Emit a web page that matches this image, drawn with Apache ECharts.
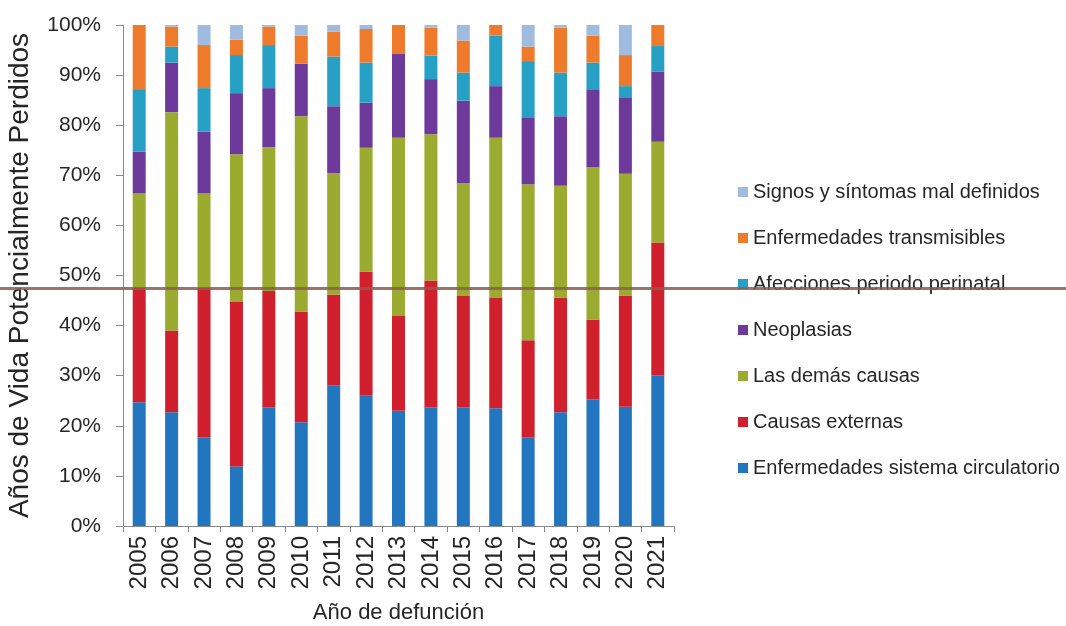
<!DOCTYPE html>
<html>
<head>
<meta charset="utf-8">
<script src="https://cdn.jsdelivr.net/npm/echarts@6/dist/echarts.min.js"></script>
<style>
  html, body { margin: 0; padding: 0; background: #ffffff; }
  #chart { width: 1066px; height: 626px; }
</style>
</head>
<body>
<div id="chart"></div>
<script>
// Años de vida potencialmente perdidos por grupo de causas (% del total anual)
const years = ['2005','2006','2007','2008','2009','2010','2011','2012','2013','2014','2015','2016','2017','2018','2019','2020','2021'];

const circulatorio  = [24.7, 22.7, 17.7, 11.9, 23.7, 20.7, 28.1, 26.0, 23.0, 23.7, 23.7, 23.5, 17.7, 22.7, 25.3, 23.8, 30.1];
const externas      = [22.8, 16.3, 29.8, 32.8, 23.2, 22.1, 18.1, 24.8, 18.9, 25.3, 22.2, 22.0, 19.4, 22.9, 15.9, 22.2, 26.5];
const demas         = [18.9, 43.6, 18.9, 29.5, 28.7, 39.0, 24.2, 24.7, 35.6, 29.2, 22.5, 32.0, 31.1, 22.3, 30.4, 24.3, 20.1];
const neoplasias    = [ 8.3,  9.9, 12.3, 12.2, 11.8, 10.5, 13.4,  9.0, 16.7, 11.0, 16.5, 10.3, 13.4, 13.9, 15.6, 15.3, 14.0];
const perinatal     = [12.5,  3.2,  8.7,  7.6,  8.6,  0.0,  9.9,  8.0,  0.0,  4.7,  5.6, 10.1, 11.2,  8.7,  5.3,  2.2,  5.1];
const transmisibles = [12.8,  4.0,  8.6,  3.1,  3.7,  5.6,  5.0,  6.7,  5.8,  5.6,  6.4,  2.1,  2.9,  9.0,  5.4,  6.2,  4.2];
const signos        = [ 0.0,  0.3,  4.0,  2.9,  0.3,  2.1,  1.3,  0.8,  0.0,  0.5,  3.1,  0.0,  4.3,  0.5,  2.1,  6.0,  0.0];

const seriesNames = [
  'Enfermedades sistema circulatorio',
  'Causas externas',
  'Las demás causas',
  'Neoplasias',
  'Afecciones periodo perinatal',
  'Enfermedades transmisibles',
  'Signos y síntomas mal definidos'
];
const seriesData = [circulatorio, externas, demas, neoplasias, perinatal, transmisibles, signos];
const seriesColors = ['#2276bf', '#d0202d', '#9bab2f', '#6d3a9c', '#27a0c6', '#ee7b2c', '#9fbce0'];

// Horizontal reference level drawn across the full width
const referenceLevel = 47.4;

const textColor = '#262626';
const axisColor = '#8a8a8a';
const font = 'Liberation Sans, Arial, sans-serif';

const chart = echarts.init(document.getElementById('chart'), null, { renderer: 'canvas' });

const option = {
  backgroundColor: '#ffffff',
  animation: false,
  grid: { left: 123, right: 392, top: 25, bottom: 100, containLabel: false, outerBoundsMode: 'none' },
  legend: {
    orient: 'vertical',
    left: 733,
    top: 176,
    data: seriesNames.slice().reverse(),
    icon: 'rect',
    itemWidth: 10,
    itemHeight: 10,
    itemGap: 24,
    textStyle: { fontFamily: font, fontSize: 20, color: textColor, lineHeight: 22 }
  },
  xAxis: {
    type: 'category',
    data: years,
    name: 'Año de defunción',
    nameLocation: 'middle',
    nameGap: 76,
    nameTextStyle: { fontFamily: font, fontSize: 22, color: textColor },
    axisLine: { lineStyle: { color: axisColor, width: 1 } },
    axisTick: { show: true, length: 6, lineStyle: { color: axisColor } },
    axisLabel: { rotate: 90, margin: 10, fontFamily: font, fontSize: 24, color: textColor, interval: 0 }
  },
  yAxis: {
    type: 'value',
    min: 0,
    max: 100,
    interval: 10,
    name: 'Años de Vida Potencialmente Perdidos',
    nameLocation: 'middle',
    nameGap: 89,
    nameTextStyle: { fontFamily: font, fontSize: 28, color: textColor },
    axisLine: { show: true, lineStyle: { color: axisColor, width: 1 } },
    axisTick: { show: true, length: 7, lineStyle: { color: axisColor } },
    splitLine: { show: false },
    axisLabel: { formatter: '{value}%', margin: 22, fontFamily: font, fontSize: 21, color: textColor }
  },
  series: seriesNames.map((name, i) => ({
    name: name,
    type: 'bar',
    stack: 'total',
    barWidth: 13,
    data: seriesData[i],
    itemStyle: { color: seriesColors[i] },
    emphasis: { disabled: true }
  }))
};

chart.setOption(option);

// Reference level line, placed through the value axis scale
const refY = chart.convertToPixel({ yAxisIndex: 0 }, referenceLevel);
chart.setOption({
  graphic: [{
    type: 'line',
    z: 100,
    shape: { x1: 0, y1: refY, x2: 1066, y2: refY },
    style: { stroke: 'rgba(140, 92, 78, 0.85)', lineWidth: 3 }
  }]
});
</script>
</body>
</html>
